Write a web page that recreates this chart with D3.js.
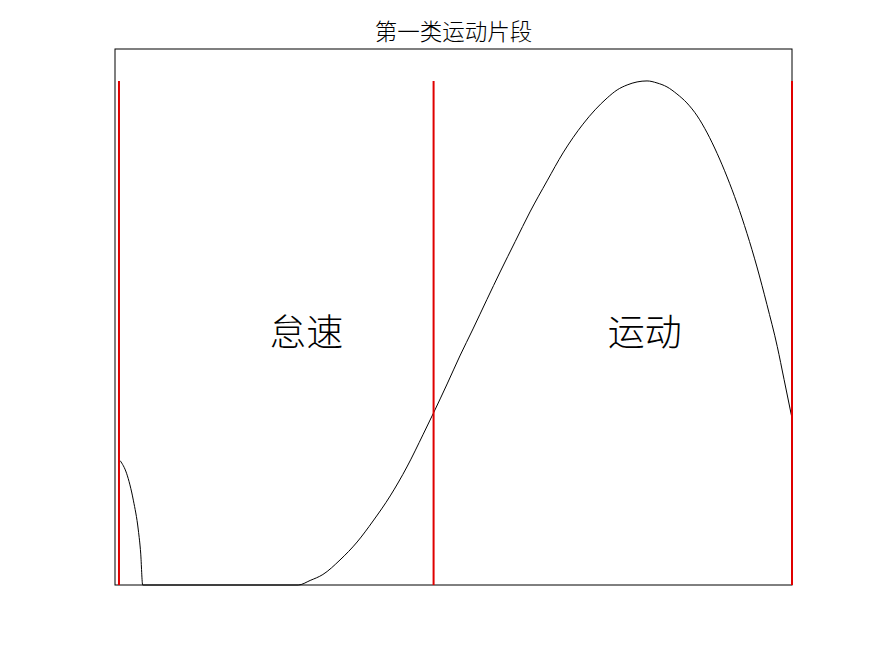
<!DOCTYPE html>
<html><head><meta charset="utf-8">
<script src="https://cdn.jsdelivr.net/npm/d3@7"></script>
<style>body{margin:0;background:#fff}</style>
</head><body>
<svg id="c" width="875" height="656"></svg>
<script>
const title = "第一类运动片段";
const times = [1.3, 2.9, 4.6, 5.85, 6.45, 6.95, 46.0, 49.0, 52.2, 56.5, 60.8, 64.8, 69.1, 73.3, 77.4, 79.9, 83.4, 86.6, 89.9, 93.4, 96.7, 100.5, 104.2, 108.5, 112.5, 117.5, 123.6, 126.1, 128.6, 131.1, 133.6, 136.1, 138.6, 141.1, 143.6, 146.2, 148.7, 151.2, 153.7, 156.2, 158.7, 161.2, 163.7, 166.3, 168.0, 170.0];
const speeds = [14.8, 13.3, 10.1, 6.55, 3.8, 0, 0, 0.54, 1.25, 2.98, 5.12, 7.62, 10.6, 14.05, 17.95, 20.4, 23.93, 27.26, 30.48, 33.99, 37.26, 40.89, 44.4, 48.1, 51.43, 54.85, 57.98, 58.93, 59.52, 59.88, 60.0, 59.76, 59.29, 58.45, 57.38, 55.83, 53.81, 51.37, 48.57, 45.42, 41.85, 37.86, 33.39, 28.39, 24.48, 19.85];
const dividers = [1, 80, 170];
const segLabels = ["怠速", "运动"];
const segLabelX = [48, 133];
const segLabelY = 29.6;

const svg = d3.select("#c");
const L = 115, R = 792, T = 49, B = 585;
const x = d3.scaleLinear().domain([0, 170]).range([L, R]);
const y = d3.scaleLinear().domain([0, 63.8]).range([B, T]);
const data = times.map((t, i) => ({t, v: speeds[i]}));
const peak = d3.max(speeds);

svg.append("rect").attr("x", L).attr("y", T).attr("width", R - L).attr("height", B - T)
  .attr("fill", "none").attr("stroke", "#000").attr("stroke-width", 1);

svg.append("path").datum(data)
  .attr("fill", "none").attr("stroke", "#000").attr("stroke-width", 1)
  .attr("d", d3.line().x(d => x(d.t)).y(d => y(d.v)).curve(d3.curveMonotoneX));

svg.selectAll("line.div").data(dividers).enter().append("line")
  .attr("x1", d => x(d)).attr("x2", d => x(d))
  .attr("y1", y(0)).attr("y2", y(peak))
  .attr("stroke", "#e00000").attr("stroke-width", 2);

svg.selectAll("text.seg").data(segLabels).enter().append("text")
  .attr("x", (d, i) => x(segLabelX[i])).attr("y", y(segLabelY))
  .attr("text-anchor", "middle").attr("dominant-baseline", "middle")
  .attr("font-family", "Noto Sans CJK SC").attr("font-size", 37).attr("font-weight", 300)
  .text(d => d);

svg.append("text").attr("x", (L + R) / 2).attr("y", 40)
  .attr("text-anchor", "middle")
  .attr("font-family", "Noto Sans CJK SC").attr("font-size", 22.5).attr("font-weight", 300)
  .text(title);
</script>
</body></html>
